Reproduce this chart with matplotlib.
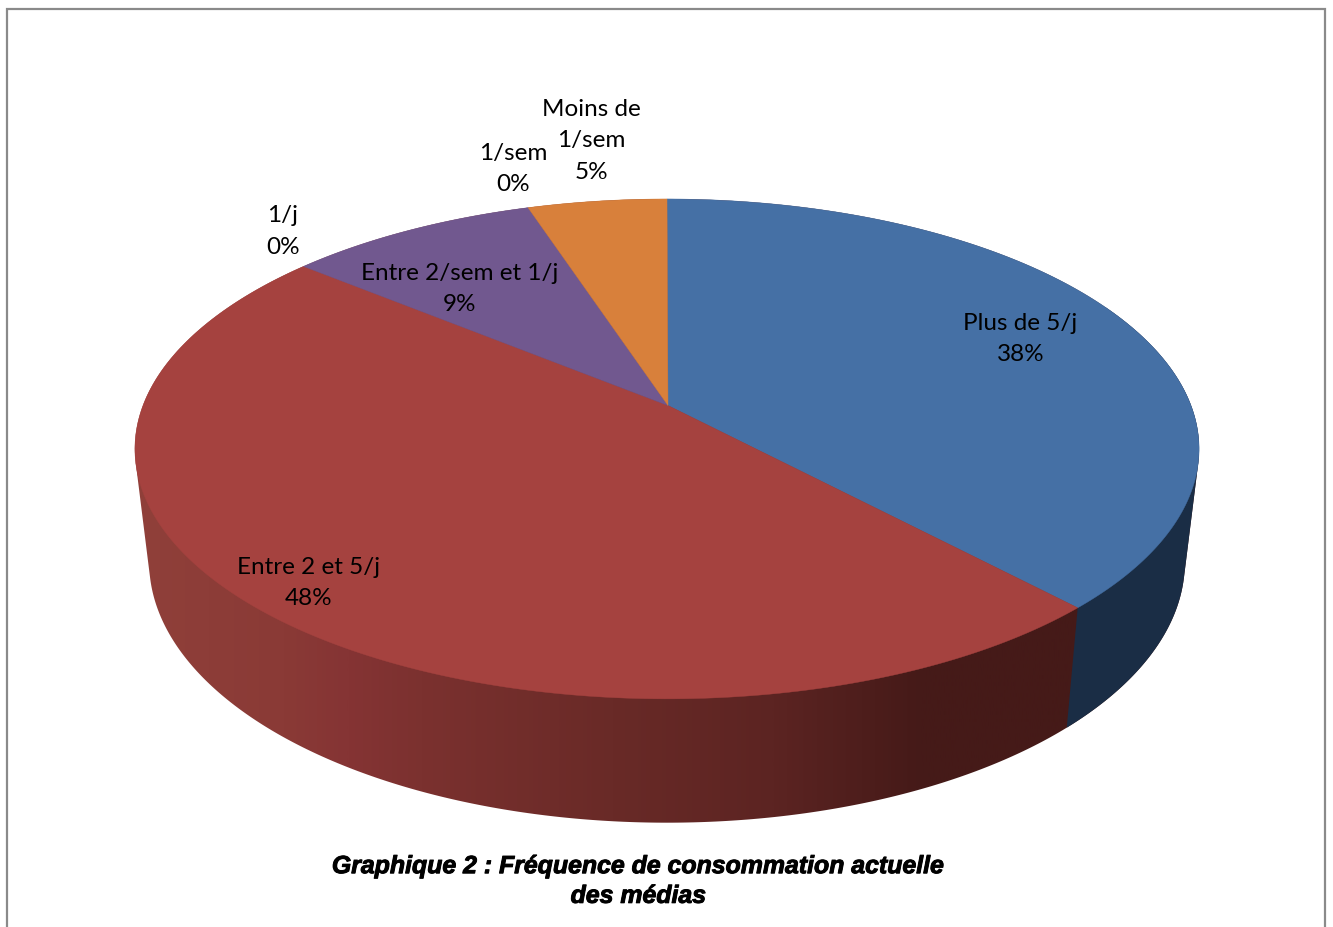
import numpy as np
import matplotlib
matplotlib.use("Agg")
import matplotlib.pyplot as plt
import matplotlib.patheffects as pe
from matplotlib.colors import LinearSegmentedColormap
from matplotlib.patches import Polygon

categories = ["Plus de 5/j", "Entre 2 et 5/j", "1/j", "Entre 2/sem et 1/j", "1/sem", "Moins de\n1/sem"]
values = [38, 48, 0, 9, 0, 5]
colors = ["#4570a5", "#a5423f", "#a5423f", "#71588f", "#71588f", "#d8803b"]
label_xy = [(1020.5, 339), (308.5, 583), (283, 231.5), (460, 289), (513.5, 169), (591, 141)]

title = "Graphique 2 : Fréquence de consommation actuelle\ndes médias"

K = 0.1737


def rim(theta, cx, a, y0, b):
    # perspective projection of the unit circle, clockwise from 12 o'clock
    u, v = np.sin(theta), np.cos(theta)
    w = 1 + K * v
    return np.column_stack([cx + a * u / w, y0 - b * v / w])


def top_rim(theta):
    return rim(theta, 667, 524, 406.5, 242.4)


def low_rim(theta):
    return rim(theta, 667, 510, 517.5, 253)


def hull(points):
    pts = sorted(map(tuple, points))

    def half(seq):
        out = []
        for p in seq:
            while len(out) > 1:
                a, b = np.subtract(out[-1], out[-2]), np.subtract(p, out[-1])
                if a[0] * b[1] - a[1] * b[0] > 0:
                    break
                out.pop()
            out.append(p)
        return out[:-1]

    return np.array(half(pts) + half(pts[::-1]))


fig = plt.figure(figsize=(13.33, 9.28), dpi=100)
ax = fig.add_axes([0, 0, 1, 1])
ax.set_xlim(0, 1333)
ax.set_ylim(928, 0)
ax.axis("off")

# frame, its bottom side falls outside the figure
ax.plot([7, 7, 1325, 1325], [940, 10, 10, 940], color="#8a8a8a", lw=1.6, solid_joinstyle="miter")

angles = 2 * np.pi * np.cumsum([0] + values) / sum(values)
circle = np.linspace(0, 2 * np.pi, 721)
wall = Polygon(hull(np.vstack([top_rim(circle), low_rim(circle)])), closed=True, fc="none", ec="none")
ax.add_patch(wall)

# side wall: horizontal shading of the big slice
shade = LinearSegmentedColormap.from_list("wall", [
    (0.0, "#90403a"), (0.14, "#8a3a36"), (0.2, "#853434"), (0.27, "#7b312f"),
    (0.45, "#692a27"), (0.6, "#5c2422"), (0.74, "#451a18"), (1.0, "#451a18")])
grad = np.linspace(0, 1, 512).reshape(1, -1)
img = ax.imshow(grad, cmap=shade, extent=(134, 1199, 928, 0), aspect="auto", zorder=2)
img.set_clip_path(wall)
ax.set_xlim(0, 1333)
ax.set_ylim(928, 0)

# dark wall of the first slice, right of the slice edge
b1 = top_rim(angles[[1]])[0]
b2 = low_rim(angles[[1]])[0]
d = b2 - b1
blue_wall = Polygon([b1 - d * 3, b2 + d * 3, (1333, 928), (1333, 0)], closed=True,
                    fc="#1a2d45", ec="none", zorder=3)
ax.add_patch(blue_wall)
blue_wall.set_clip_path(wall)

# top face
centre = (668, 406.5)
for i, c in enumerate(colors):
    if values[i] == 0:
        continue
    t = np.linspace(angles[i], angles[i + 1], 200)
    ax.add_patch(Polygon(np.vstack([[centre], top_rim(t)]), closed=True, fc=c, ec=c, lw=0.3, zorder=4))

for name, val, (x, y) in zip(categories, values, label_xy):
    ax.text(x, y, f"{name}\n{val}%", ha="center", va="center", fontsize=17.5,
            family="Lato", color="black", linespacing=1.63, zorder=5)

ax.text(638.5, 882, title, ha="center", va="center", fontsize=17.9, family="Liberation Sans",
        weight="bold", style="italic", color="black", linespacing=1.3, zorder=5,
        path_effects=[pe.withStroke(linewidth=0.7, foreground="black")])

fig.savefig("out.png", dpi=100)
